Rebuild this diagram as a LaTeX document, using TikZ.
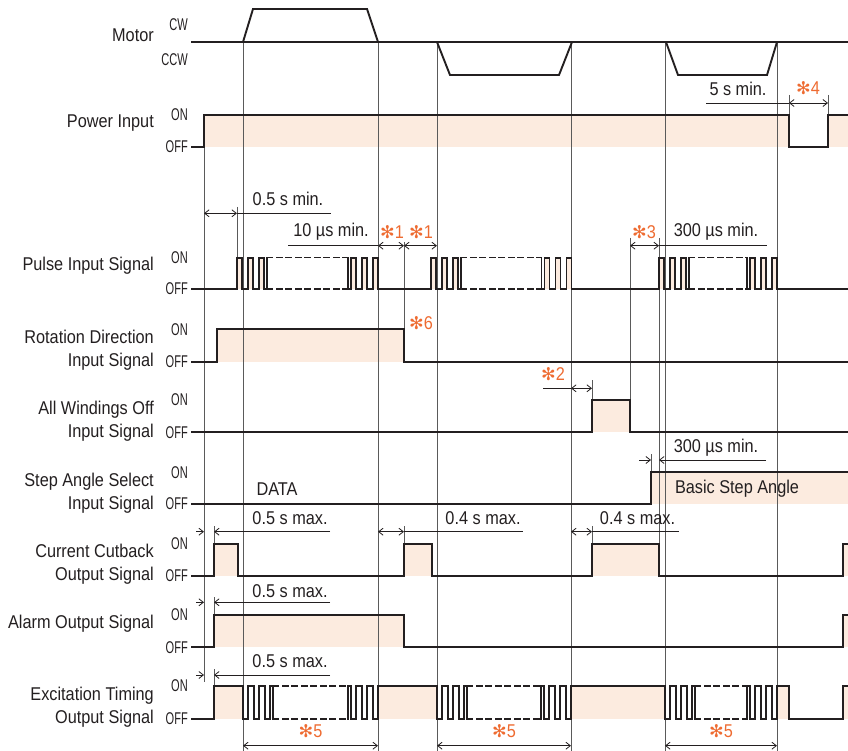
\documentclass[tikz,border=0pt]{standalone}
\usepackage{fontspec}
\setmainfont{Liberation Sans}[FakeStretch=0.88]
\newfontfamily\narrowfont{Liberation Sans}[FakeStretch=0.65]
\newfontfamily\starfont{DejaVu Sans}
\usetikzlibrary{arrows.meta}

\definecolor{ink}{RGB}{35,31,32}
\definecolor{peach}{RGB}{252,235,223}
\definecolor{notecol}{RGB}{238,107,49}
\definecolor{guidegray}{RGB}{90,90,90}

\newcommand{\lblfont}{\fontsize{18.5}{23.3}\selectfont}
\newcommand{\lvlfont}{\narrowfont\fontsize{17}{18}\selectfont}
\newcommand{\starnote}[1]{{\starfont\fontsize{17.5}{17.5}\selectfont ✻}#1}

% pulse train: start, end, ON level, OFF level
\newcommand{\pulsetrain}[4]{%
  \foreach \s in {0,11,22}{\fill[hi] ({#1+\s},#3) rectangle ({#1+\s+5},#4);}
  \foreach \s in {27,16,5}{\fill[hi] ({#2-\s},#3) rectangle ({#2-\s+5},#4);}
  \draw[sig] (#1,#4) -- (#1,#3) -- ({#1+5},#3) -- ({#1+5},#4) -- ({#1+11},#4) -- ({#1+11},#3) -- ({#1+16},#3) -- ({#1+16},#4) -- ({#1+22},#4) -- ({#1+22},#3) -- ({#1+27},#3) -- ({#1+27},#4) -- ({#1+30},#4) -- ({#1+30},#3);
  \draw[sig,brk] ({#1+30},#3) -- ({#2-30},#3) ({#1+30},#4) -- ({#2-30},#4);
  \draw[sig] ({#2-30},#3) -- ({#2-30},#4) -- ({#2-27},#4) -- ({#2-27},#3) -- ({#2-22},#3) -- ({#2-22},#4) -- ({#2-16},#4) -- ({#2-16},#3) -- ({#2-11},#3) -- ({#2-11},#4) -- ({#2-5},#4) -- ({#2-5},#3) -- (#2,#3) -- (#2,#4);
}
% same, inverted (output side)
\newcommand{\exctrain}[4]{%
  \draw[sig] (#1,#3) -- (#1,#4) -- ({#1+5},#4) -- ({#1+5},#3) -- ({#1+11},#3) -- ({#1+11},#4) -- ({#1+16},#4) -- ({#1+16},#3) -- ({#1+22},#3) -- ({#1+22},#4) -- ({#1+27},#4) -- ({#1+27},#3) -- ({#1+30},#3) -- ({#1+30},#4);
  \draw[sig,brk] ({#1+30},#3) -- ({#2-30},#3) ({#1+30},#4) -- ({#2-30},#4);
  \draw[sig] ({#2-30},#4) -- ({#2-30},#3) -- ({#2-27},#3) -- ({#2-27},#4) -- ({#2-22},#4) -- ({#2-22},#3) -- ({#2-16},#3) -- ({#2-16},#4) -- ({#2-11},#4) -- ({#2-11},#3) -- ({#2-5},#3) -- ({#2-5},#4) -- (#2,#4) -- (#2,#3);
}

\begin{document}
\begin{tikzpicture}[
    x=1pt, y=-1pt,
    sig/.style={draw=ink, line width=1.9pt, line cap=rect, line join=miter},
    hi/.style={fill=peach},
    brk/.style={dash pattern=on 5.5pt off 4pt, line width=1.6pt},
    guide/.style={draw=guidegray, line width=1pt},
    dim/.style={draw=ink, line width=0.8pt},
    dimboth/.style={dim, {Straight Barb[length=4.5pt,width=7pt]}-{Straight Barb[length=4.5pt,width=7pt]}},
    dimtip/.style={dim, -{Straight Barb[length=4.5pt,width=7pt]}},
    lbl/.style={anchor=east, align=right, inner sep=0pt, text=ink, font=\lblfont},
    lvl/.style={anchor=east, inner sep=0pt, text=ink, font=\lvlfont},
    dimtxt/.style={inner sep=0pt, text=ink, font=\lblfont},
    starlbl/.style={inner sep=0pt, text=notecol, font=\lblfont}
]
\useasboundingbox (0,0) rectangle (848,751);

% shaded ON areas
\fill[hi] (204,115) rectangle (789,147);
\fill[hi] (828,115) rectangle (848,147);
\fill[hi] (217,329.3) rectangle (404,361.7);
\fill[hi] (592,400) rectangle (630,432.3);
\fill[hi] (651,472.3) rectangle (848,504);
\foreach \a/\b in {214/238,404/432,592/659,843/848}
  \fill[hi] (\a,544) rectangle (\b,575.7);
\fill[hi] (214,615) rectangle (404,647.3);
\fill[hi] (843,615) rectangle (848,647.3);
\foreach \a/\b in {214/243,378/437,571/665,777/789,843/848}
  \fill[hi] (\a,686) rectangle (\b,719);

% timing guides
\foreach \x in {243,378,437,571,665,777}
  \draw[guide] (\x,42) -- (\x,751);
\draw[guide] (204,147) -- (204,682);
\draw[guide] (237,207) -- (237,257.7);
\draw[guide] (404,242) -- (404,329.3);
\draw[guide] (630,238) -- (630,400);
\draw[guide] (659,238) -- (659,544);
\draw[guide] (592,380) -- (592,400);
\draw[guide] (651,454) -- (651,472.3);
\draw[guide] (789,95) -- (789,115);
\draw[guide] (828,95) -- (828,115);
\foreach \x in {214,404,592}
  \draw[guide] (\x,526) -- (\x,544);
\draw[guide] (214,597) -- (214,615);
\draw[guide] (214,669) -- (214,686);

% row labels
\node[lbl] (motor) at (154,35) {Motor};
\node[lvl] (cw) at (188,25) {CW};
\node[lvl] (ccw) at (188,60) {CCW};
\node[lbl] (power) at (154,123) {Power Input};
\node[lbl] (pulse) at (154,266) {Pulse Input Signal};
\node[lbl] (rotation) at (154,350) {Rotation Direction\\Input Signal};
\node[lbl] (awo) at (154,421.5) {All Windings Off\\Input Signal};
\node[lbl] (stepsel) at (154,493.5) {Step Angle Select\\Input Signal};
\node[lbl] (cutback) at (154,564.5) {Current Cutback\\Output Signal};
\node[lbl] (alarm) at (154,623.3) {Alarm Output Signal};
\node[lbl] (excite) at (154,707.5) {Excitation Timing\\Output Signal};
\foreach \y/\i in {115/1,257.7/2,329.3/3,400/4,472.3/5,544/6,615/7,686/8}
  \node[lvl] (on\i) at (188,\y) {ON};
\foreach \y/\i in {147/1,289/2,361.7/3,432.3/4,504/5,575.7/6,647.3/7,719/8}
  \node[lvl] (off\i) at (188,\y) {OFF};

% motor
\draw[sig] (192,42) -- (848,42);
\draw[sig, line cap=butt] (243,42) -- (253,9) -- (367,9) -- (378,42);
\draw[sig, line cap=butt] (437,42) -- (450,75) -- (559,75) -- (572,42);
\draw[sig, line cap=butt] (666,42) -- (678,75) -- (767,75) -- (777,42);

% power input
\draw[sig] (192,147) -- (204,147) -- (204,115) -- (789,115) -- (789,147) -- (828,147) -- (828,115) -- (848,115);

% pulse input
\draw[sig] (192,289) -- (237,289);
\pulsetrain{237}{378}{257.7}{289}
\draw[sig] (378,289) -- (431,289);
\pulsetrain{431}{571.5}{257.7}{289}
\draw[sig] (571.5,289) -- (659,289);
\pulsetrain{659}{777}{257.7}{289}
\draw[sig] (777,289) -- (848,289);

% rotation direction
\draw[sig] (192,361.7) -- (217,361.7) -- (217,329.3) -- (404,329.3) -- (404,361.7) -- (848,361.7);

% all windings off
\draw[sig] (192,432.3) -- (592,432.3) -- (592,400) -- (630,400) -- (630,432.3) -- (848,432.3);

% step angle select
\draw[sig] (192,504) -- (651,504) -- (651,472.3) -- (848,472.3);

% current cutback
\draw[sig] (192,575.7) -- (214,575.7) -- (214,544) -- (238,544) -- (238,575.7) -- (404,575.7) -- (404,544) -- (432,544) -- (432,575.7) -- (592,575.7) -- (592,544) -- (659,544) -- (659,575.7) -- (843,575.7) -- (843,544) -- (848,544);

% alarm
\draw[sig] (192,647.3) -- (214,647.3) -- (214,615) -- (404,615) -- (404,647.3) -- (843,647.3) -- (843,615) -- (848,615);

% excitation timing
\draw[sig] (192,719) -- (214,719) -- (214,686) -- (243,686);
\exctrain{243}{378}{686}{719}
\draw[sig] (378,686) -- (437,686);
\exctrain{437}{571}{686}{719}
\draw[sig] (571,686) -- (665,686);
\exctrain{665}{777}{686}{719}
\draw[sig] (777,686) -- (789,686) -- (789,719) -- (843,719) -- (843,686) -- (848,686);

% dimensions
\draw[dim] (706,103) -- (789,103);
\draw[dimboth] (789,103) -- (828,103);
\node[dimtxt] (fiveS) at (738,89) {5 s min.};
\node[starlbl] (n4) at (808,88) {\starnote{4}};

\draw[dimboth] (204,213.3) -- (237,213.3);
\draw[dim] (237,213.3) -- (331,213.3);
\node[dimtxt] (halfMin) at (288,199) {0.5 s min.};

\draw[dim] (288,245.7) -- (378,245.7);
\draw[dimboth] (378,245.7) -- (404,245.7);
\draw[dimboth] (404,245.7) -- (437,245.7);
\node[dimtxt] (tenUs) at (331,231.7) {10 µs min.};
\node[starlbl] (n1a) at (392,231.7) {\starnote{1}};
\node[starlbl] (n1b) at (421,231.7) {\starnote{1}};

\draw[dimboth] (630,245.7) -- (659,245.7);
\draw[dim] (659,245.7) -- (767,245.7);
\node[starlbl] (n3) at (644,231.7) {\starnote{3}};
\node[dimtxt] (pulseUs) at (716,232) {300 µs min.};

\node[starlbl] (n6) at (421,323.3) {\starnote{6}};

\draw[dim] (543,388.3) -- (571,388.3);
\draw[dimboth] (571,388.3) -- (592,388.3);
\node[starlbl] (n2) at (553,374) {\starnote{2}};

\draw[dimtip] (639,460) -- (651,460);
\draw[dimtip] (766,460) -- (659,460);
\node[dimtxt] (stepUs) at (716,447.3) {300 µs min.};

\node[dimtxt] (data) at (277,489) {DATA};
\node[dimtxt] (basic) at (737,489) {Basic Step Angle};

\foreach \y/\ty/\i in {531.7/518.3/1,602.3/591/2,675/661/3}{
  \draw[dimtip] (196,\y) -- (204,\y);
  \draw[dimtip] (330,\y) -- (214,\y);
  \node[dimtxt] (halfMax\i) at (290,\ty) {0.5 s max.};
}
\draw[dimboth] (378,531.7) -- (404,531.7);
\draw[dim] (404,531.7) -- (523,531.7);
\node[dimtxt] (maxA) at (483,518.3) {0.4 s max.};
\draw[dimboth] (571,531.7) -- (592,531.7);
\draw[dim] (592,531.7) -- (679,531.7);
\node[dimtxt] (maxB) at (637.5,518.3) {0.4 s max.};

\foreach \a/\b/\i in {243/378/1,437/571/2,665/777/3}{
  \draw[dimboth] (\a,745.7) -- (\b,745.7);
  \node[starlbl] (n5\i) at ({(\a+\b)/2},731) {\starnote{5}};
}
\end{tikzpicture}
\end{document}
